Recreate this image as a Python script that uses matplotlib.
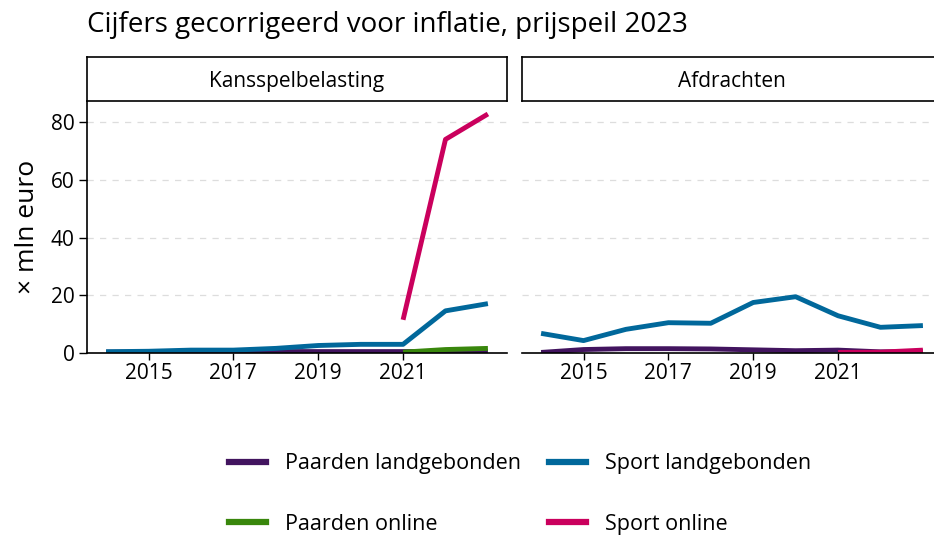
import matplotlib
matplotlib.use("Agg")
import matplotlib.pyplot as plt
import numpy as np
from matplotlib.lines import Line2D

years = [2014, 2015, 2016, 2017, 2018, 2019, 2020, 2021, 2022, 2023]
panels = ["Kansspelbelasting", "Afdrachten"]
series = ["Paarden landgebonden", "Paarden online", "Sport landgebonden", "Sport online"]
colors = ["#42145f", "#39870c", "#01689b", "#ca005d"]

# Kansspelbelasting
ksb_paarden_land = [0.3, 0.3, 0.4, 0.4, 0.5, 0.5, 0.5, 0.5, 0.5, 0.5]
ksb_paarden_online = [None, None, None, None, None, None, None, 0.3, 1.2, 1.6]
ksb_sport_land = [0.45, 0.6, 1.0, 1.0, 1.6, 2.6, 3.0, 3.0, 14.6, 17.1]
ksb_sport_online = [None, None, None, None, None, None, None, 11.5, 74.0, 82.8]

# Afdrachten
afd_paarden_land = [0.2, 1.2, 1.5, 1.5, 1.4, 1.1, 0.8, 1.0, 0.4, 0.5]
afd_paarden_online = [None, None, None, None, None, None, None, 0.1, 0.1, 0.2]
afd_sport_land = [6.8, 4.3, 8.2, 10.5, 10.3, 17.5, 19.5, 12.9, 8.9, 9.5]
afd_sport_online = [None, None, None, None, None, None, None, 0.2, 0.3, 1.0]

data = {
    "Kansspelbelasting": [ksb_paarden_land, ksb_paarden_online, ksb_sport_land, ksb_sport_online],
    "Afdrachten": [afd_paarden_land, afd_paarden_online, afd_sport_land, afd_sport_online],
}

yticks = [0, 20, 40, 60, 80]
xticks = [2015, 2017, 2019, 2021]

plt.rcParams['font.family'] = ['Open Sans', 'DejaVu Sans']

W, H = 934, 539
fig = plt.figure(figsize=(W / 100, H / 100), dpi=100)

def fx(px):
    return px / W

def fy(py):
    return 1 - py / H

ax_left_px = [87, 522]
ax_w_px = 420
ax_top_px, ax_bot_px = 101, 353
strip_top_px = 57

for i, p in enumerate(panels):
    ax = fig.add_axes([fx(ax_left_px[i]), fy(ax_bot_px), ax_w_px / W, (ax_bot_px - ax_top_px) / H])
    for s, c, vals in zip(series, colors, data[p]):
        y = np.array([np.nan if v is None else v for v in vals], dtype=float)
        ax.plot(years, y, color=c, lw=3.5, solid_capstyle='butt', solid_joinstyle='round', label=s)
    ax.set_xlim(2013.55, 2023.45)
    ax.set_ylim(0, 87.3)
    ax.set_xticks(xticks)
    ax.set_yticks(yticks)
    ax.yaxis.grid(True, color='#dddddd', ls=(0, (5, 5)), lw=0.9)
    ax.set_axisbelow(True)
    for sp in ['top', 'right']:
        ax.spines[sp].set_visible(False)
    ax.spines['bottom'].set_color('black')
    ax.spines['bottom'].set_linewidth(1.2)
    ax.tick_params(axis='x', labelsize=15, length=5, width=1, color='black', pad=2)
    if i == 0:
        ax.spines['left'].set_color('black')
        ax.spines['left'].set_linewidth(1.2)
        ax.tick_params(axis='y', labelsize=15, length=6, width=1, color='black', pad=3)
        ax.set_ylabel("× mln euro", fontsize=19, labelpad=8)
    else:
        ax.spines['left'].set_visible(False)
        ax.tick_params(axis='y', left=False, labelleft=False)
    # strip
    sax = fig.add_axes([fx(ax_left_px[i]), fy(ax_top_px), ax_w_px / W, (ax_top_px - strip_top_px) / H])
    sax.set_xticks([]); sax.set_yticks([])
    for sp in sax.spines.values():
        sp.set_color('black'); sp.set_linewidth(1.2)
    sax.text(0.5, 0.44, p, ha='center', va='center', fontsize=15, transform=sax.transAxes)

fig.text(fx(87), fy(25), "Cijfers gecorrigeerd voor inflatie, prijspeil 2023", fontsize=20, ha='left', va='center')

handles = [Line2D([0], [0], color=colors[k], lw=4.5) for k in range(4)]
fig.legend([handles[0], handles[1], handles[2], handles[3]],
           [series[0], series[1], series[2], series[3]],
           ncol=2, loc='center', bbox_to_anchor=(fx(520), fy(494)), frameon=False,
           fontsize=15.5, labelspacing=1.85, columnspacing=1.3, handlelength=1.7, handletextpad=0.9)

fig.savefig("out.png", dpi=100)
